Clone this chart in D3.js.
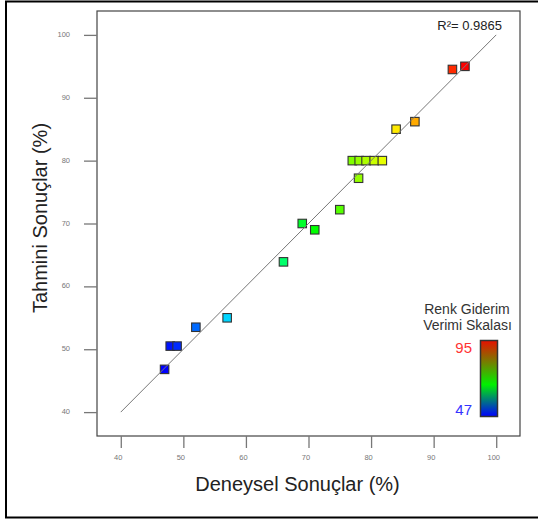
<!DOCTYPE html>
<html>
<head>
<meta charset="utf-8">
<script src="https://cdn.jsdelivr.net/npm/d3@7"></script>
<style>
  html, body { margin: 0; padding: 0; background: #fff; }
  svg { display: block; font-family: "Liberation Sans", Arial, sans-serif; }
</style>
</head>
<body>
<svg id="chart" width="538" height="520"></svg>
<script>
// ---- data ----
const experimental = [47, 47.9, 49, 52, 57, 66, 69, 71, 75, 77, 78.1, 79.2, 80.5, 81.8, 78, 84, 87, 93, 95];
const predicted    = [46.8, 50.5, 50.5, 53.5, 55, 63.9, 70, 69, 72.2, 80, 80, 80, 80, 80, 77.2, 85, 86.2, 94.5, 95];
const xTicks = [40, 50, 60, 70, 80, 90, 100];
const yTicks = [40, 50, 60, 70, 80, 90, 100];
const fitLine = [40, 100];
const colorDomain = [47, 95];
const r2Label = "R²= 0.9865";
const xTitle = "Deneysel Sonuçlar (%)";
const yTitle = "Tahmini Sonuçlar (%)";
const legendTitle = ["Renk Giderim", "Verimi Skalası"];

// ---- layout ----
const svg = d3.select("#chart");
const frame = { left: 97, right: 520, top: 11, bottom: 436 };

const x = d3.scaleLinear().domain([36.2, 103.8]).range([frame.left, frame.right]);
const y = d3.scaleLinear().domain([36.2, 103.8]).range([frame.bottom, frame.top]);
const hue = d3.scaleLinear().domain(colorDomain).range([240, 0]);
const color = v => d3.hsl(hue(v), 1, 0.5).toString();

// outer border
svg.append("rect")
  .attr("x", 6).attr("y", 1.5).attr("width", 560).attr("height", 516)
  .attr("fill", "none").attr("stroke", "#000").attr("stroke-width", 2);

// plot frame
svg.append("rect")
  .attr("x", frame.left).attr("y", frame.top)
  .attr("width", frame.right - frame.left).attr("height", frame.bottom - frame.top)
  .attr("fill", "#fff").attr("stroke", "#444").attr("stroke-width", 1.2);

// x axis
const gx = svg.append("g").attr("transform", `translate(0,${frame.bottom})`)
  .call(d3.axisBottom(x).tickValues(xTicks).tickSize(12).tickPadding(7).tickFormat(d3.format("d")));
gx.select(".domain").remove();
gx.selectAll(".tick line").attr("stroke", "#777").attr("stroke-width", 1.3);
gx.selectAll(".tick text").attr("fill", "#777").attr("font-size", 7.5).attr("dx", -3);

// y axis
const gy = svg.append("g").attr("transform", `translate(${frame.left},0)`)
  .call(d3.axisLeft(y).tickValues(yTicks).tickSize(13).tickPadding(14).tickFormat(d3.format("d")));
gy.select(".domain").remove();
gy.selectAll(".tick line").attr("stroke", "#777").attr("stroke-width", 1.3);
gy.selectAll(".tick text").attr("fill", "#777").attr("font-size", 7.5).attr("dy", "0.2em");

// points
const pts = experimental.map((e, i) => ({ e, p: predicted[i] }));
const s = 8.5;
svg.append("g").selectAll("rect").data(pts).join("rect")
  .attr("x", d => x(d.e) - s / 2).attr("y", d => y(d.p) - s / 2)
  .attr("width", s).attr("height", s)
  .attr("fill", d => color(d.e))
  .attr("stroke", "#333").attr("stroke-width", 1.1);

// fit line (drawn over the squares)
svg.append("line")
  .attr("x1", x(fitLine[0])).attr("y1", y(fitLine[0]))
  .attr("x2", x(fitLine[1])).attr("y2", y(fitLine[1]))
  .attr("stroke", "#777").attr("stroke-width", 1);

// R² label
svg.append("text").attr("x", 502).attr("y", 30).attr("text-anchor", "end")
  .attr("font-size", 13).attr("fill", "#222").text(r2Label);

// axis titles
svg.append("text").attr("x", 297.5).attr("y", 491).attr("text-anchor", "middle")
  .attr("font-size", 20).attr("fill", "#222").text(xTitle);
svg.append("text").attr("transform", "translate(47,218) rotate(-90)").attr("text-anchor", "middle")
  .attr("font-size", 20).attr("fill", "#222").text(yTitle);

// legend
const defs = svg.append("defs");
const grad = defs.append("linearGradient").attr("id", "cbar")
  .attr("x1", 0).attr("y1", 0).attr("x2", 0).attr("y2", 1);
grad.append("stop").attr("offset", "0%").attr("stop-color", "#e81000");
grad.append("stop").attr("offset", "58%").attr("stop-color", "#00f000");
grad.append("stop").attr("offset", "100%").attr("stop-color", "#0000ff");

svg.append("text").attr("x", 467).attr("y", 314).attr("text-anchor", "middle")
  .attr("font-size", 14).attr("fill", "#333").text(legendTitle[0]);
svg.append("text").attr("x", 467.5).attr("y", 330).attr("text-anchor", "middle")
  .attr("font-size", 14).attr("fill", "#333").text(legendTitle[1]);

svg.append("rect").attr("x", 480.5).attr("y", 340.5).attr("width", 17).attr("height", 76)
  .attr("fill", "url(#cbar)").attr("stroke", "#333").attr("stroke-width", 1.5);

svg.append("text").attr("x", 472).attr("y", 352.5).attr("text-anchor", "end")
  .attr("font-size", 15).attr("fill", "#ff3333").text(colorDomain[1]);
svg.append("text").attr("x", 472).attr("y", 415).attr("text-anchor", "end")
  .attr("font-size", 15).attr("fill", "#3333ff").text(colorDomain[0]);
</script>
</body>
</html>
